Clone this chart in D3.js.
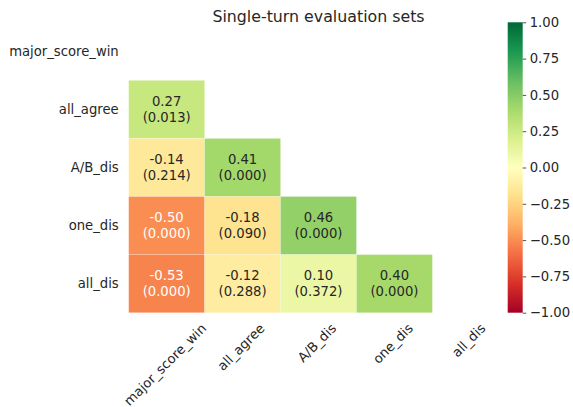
<!DOCTYPE html>
<html>
<head>
<meta charset="utf-8"/>
<title>Single-turn evaluation sets</title>
<script src="https://cdn.jsdelivr.net/npm/d3@7"></script>
<style>
	body { margin: 0; background: #fff; }
	svg text { font-family: "DejaVu Sans", sans-serif; fill: #262626; }
</style>
</head>
<body>
<div id="chart"></div>
<script>
// Lower-triangle correlation matrix (rows x columns), with p-values
var labels = ["major_score_win", "all_agree", "A/B_dis", "one_dis", "all_dis"];
var corr = [
	[],
	[0.27],
	[-0.14, 0.41],
	[-0.50, -0.18, 0.46],
	[-0.53, -0.12, 0.10, 0.40]
];
var pvals = [
	[],
	[0.013],
	[0.214, 0.000],
	[0.000, 0.090, 0.000],
	[0.000, 0.288, 0.372, 0.000]
];
var cbarTicks = [-1, -0.75, -0.5, -0.25, 0, 0.25, 0.5, 0.75, 1];

var W = 573, H = 407;
var mLeft = 128.7, mRight = 508.3, mTop = 22.3, mBottom = 312.7;
var fs = "13.2px";

var svg = d3.select("#chart").append("svg")
	.attr("width", W).attr("height", H);

var x = d3.scaleBand().domain(labels).range([mLeft, mRight]);
var y = d3.scaleBand().domain(labels).range([mTop, mBottom]);

// matplotlib's RdYlGn is linear between the 11 brewer colours
var brewer = d3.schemeRdYlGn[11];
var color = d3.scaleLinear()
	.domain(d3.range(11).map(function(i) { return -1 + i * 0.2; }))
	.range(brewer)
	.interpolate(d3.interpolateRgb)
	.clamp(true);

function textColor(c) {
	var rgb = d3.rgb(c);
	function lin(v) { v /= 255; return v <= 0.03928 ? v / 12.92 : Math.pow((v + 0.055) / 1.055, 2.4); }
	var lum = 0.2126 * lin(rgb.r) + 0.7152 * lin(rgb.g) + 0.0722 * lin(rgb.b);
	return lum > 0.408 ? "#262626" : "#ffffff";
}

var cells = [];
corr.forEach(function(row, i) {
	row.forEach(function(v, j) {
		cells.push({ r: labels[i], c: labels[j], v: v, p: pvals[i][j] });
	});
});

var g = svg.append("g");
var cell = g.selectAll("g.cell").data(cells).enter().append("g").attr("class", "cell");
cell.append("rect")
	.attr("x", function(d) { return x(d.c); })
	.attr("y", function(d) { return y(d.r); })
	.attr("width", x.bandwidth())
	.attr("height", y.bandwidth())
	.attr("fill", function(d) { return color(d.v); })
	.attr("stroke", "#ffffff")
	.attr("stroke-opacity", 0.35)
	.attr("stroke-width", 0.5);
cell.append("text")
	.attr("x", function(d) { return x(d.c) + x.bandwidth() / 2; })
	.attr("y", function(d) { return y(d.r) + y.bandwidth() / 2 - 7.8; })
	.attr("text-anchor", "middle")
	.attr("dominant-baseline", "central")
	.style("font-size", fs)
	.style("fill", function(d) { return textColor(color(d.v)); })
	.text(function(d) { return d.v.toFixed(2); });
cell.append("text")
	.attr("x", function(d) { return x(d.c) + x.bandwidth() / 2; })
	.attr("y", function(d) { return y(d.r) + y.bandwidth() / 2 + 7.8; })
	.attr("text-anchor", "middle")
	.attr("dominant-baseline", "central")
	.style("font-size", fs)
	.style("fill", function(d) { return textColor(color(d.v)); })
	.text(function(d) { return "(" + d.p.toFixed(3) + ")"; });

// y labels
svg.append("g").selectAll("text").data(labels).enter().append("text")
	.attr("x", mLeft - 10)
	.attr("y", function(d) { return y(d) + y.bandwidth() / 2; })
	.attr("text-anchor", "end")
	.attr("dominant-baseline", "central")
	.style("font-size", fs)
	.text(function(d) { return d; });

// x labels, rotated 45deg, bbox centred on the column, top just below the axis
var xl = svg.append("g").selectAll("text").data(labels).enter().append("text")
	.attr("text-anchor", "middle")
	.attr("dominant-baseline", "central")
	.style("font-size", fs)
	.text(function(d) { return d; });
xl.each(function(d) {
	var w = this.getComputedTextLength(), h = 12;
	var px = x(d) + x.bandwidth() / 2 - 1.5;
	var py = mBottom + 9 + (w + h) * Math.SQRT1_2 / 2;
	d3.select(this).attr("x", px).attr("y", py)
		.attr("transform", "rotate(-45," + px + "," + py + ")");
});

// title
svg.append("text")
	.attr("x", (mLeft + mRight) / 2)
	.attr("y", 21.5)
	.attr("text-anchor", "middle")
	.style("font-size", "15.8px")
	.text("Single-turn evaluation sets");

// colorbar
var cbX = 507.7, cbW = 15;
var cbScale = d3.scaleLinear().domain([-1, 1]).range([mBottom, mTop]);
var defs = svg.append("defs");
var grad = defs.append("linearGradient").attr("id", "cbar")
	.attr("x1", 0).attr("y1", 1).attr("x2", 0).attr("y2", 0);
d3.range(0, 1.0001, 0.05).forEach(function(t) {
	grad.append("stop").attr("offset", t).attr("stop-color", color(-1 + 2 * t));
});
svg.append("rect")
	.attr("x", cbX).attr("y", mTop)
	.attr("width", cbW).attr("height", mBottom - mTop)
	.attr("fill", "url(#cbar)");

var fmt = function(v) { return d3.format(".2f")(v).replace("-", "\u2212"); };
var cbAxis = d3.axisRight(cbScale).tickValues(cbarTicks).tickFormat(fmt)
	.tickSize(3.5).tickPadding(3.5);
var ax = svg.append("g").attr("transform", "translate(" + (cbX + cbW) + ",0)").call(cbAxis);
ax.select(".domain").remove();
ax.selectAll(".tick line").attr("stroke", "#262626").attr("stroke-width", 0.8);
ax.selectAll(".tick text").style("font-size", fs).attr("fill", "#262626")
	.style("font-family", "DejaVu Sans, sans-serif");
</script>
</body>
</html>
